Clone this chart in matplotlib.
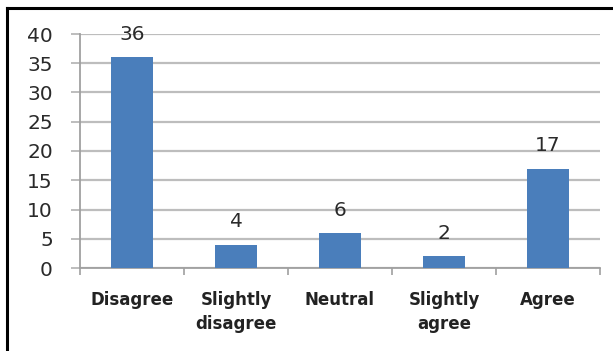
import matplotlib
matplotlib.use("Agg")
import matplotlib.pyplot as plt
from matplotlib.lines import Line2D

categories = ["Disagree", "Slightly\ndisagree", "Neutral", "Slightly\nagree", "Agree"]
values = [36, 4, 6, 2, 17]
yticks = [0, 5, 10, 15, 20, 25, 30, 35, 40]

fig = plt.figure(figsize=(6.13, 3.51), dpi=100)
ax = fig.add_axes([80/613, 1-268/351, 520/613, 234/351])

x = list(range(len(categories)))
bars = ax.bar(x, values, width=0.4, color="#4a7ebb", zorder=3)
ax.set_xlim(-0.5, len(categories) - 0.5)
ax.set_ylim(0, 40)
ax.set_yticks(yticks)
ax.set_yticklabels([str(v) for v in yticks], fontsize=14.5, color="#2a2a2a")
ax.yaxis.grid(True, color="#bdbdbd", linewidth=1.6, zorder=0)
ax.tick_params(axis="y", length=6.5, width=1.4, color="#bdbdbd", pad=13)

ax.set_xticks([i - 0.5 for i in range(len(categories) + 1)], minor=False)
ax.set_xticklabels([])
ax.tick_params(axis="x", which="major", length=5, width=1.2, color="#a0a0a0", direction="out")
ax.set_xticks(x, minor=True)
ax.set_xticklabels(categories, minor=True, fontsize=12, fontweight="semibold",
                   color="#222222", linespacing=1.45)
ax.tick_params(axis="x", which="minor", length=0, pad=16.5)

for s in ["top", "right"]:
    ax.spines[s].set_visible(False)
for s in ["left", "bottom"]:
    ax.spines[s].set_color("#a0a0a0")
    ax.spines[s].set_linewidth(1.3)

for xi, v in zip(x, values):
    ax.text(xi, v + 3.9, str(v), ha="center", va="center", fontsize=14.5, color="#2a2a2a")

# Outer frame (top and left edges visible in reference)
fig.add_artist(Line2D([6.5/613, 1.0], [1-8/351, 1-8/351], color="black", linewidth=2.2, transform=fig.transFigure))
fig.add_artist(Line2D([6.5/613, 6.5/613], [0, 1-8/351], color="black", linewidth=2.2, transform=fig.transFigure))

fig.savefig("out.png", dpi=100)
